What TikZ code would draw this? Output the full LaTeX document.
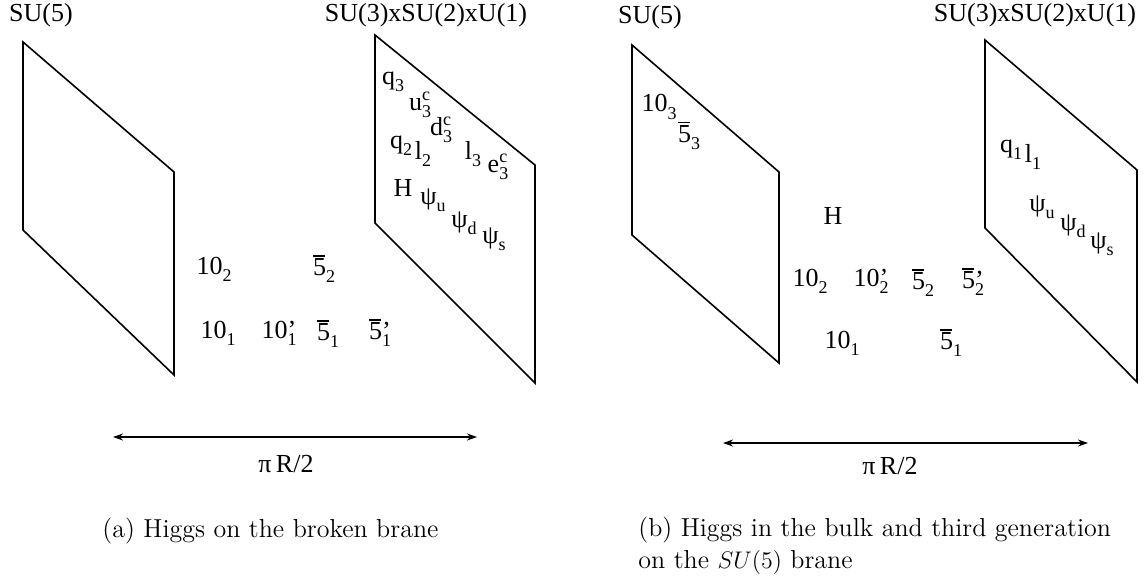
\documentclass[tikz,border=0pt]{standalone}
\usepackage{fontspec}
\newfontfamily\figfont{Liberation Serif}
\usetikzlibrary{arrows.meta}

\newcommand{\sbs}[1]{\raisebox{-0.6ex}{\fontsize{9}{9}\selectfont #1}}
\newcommand{\sps}[1]{\raisebox{0.8ex}{\fontsize{9}{9}\selectfont #1}}
\newcommand{\sbsp}[2]{\rlap{\sps{#2}}\sbs{#1}}
\newcommand{\sbpr}[1]{\rlap{’}\sbs{#1}}
\newcommand{\fivebar}{\rlap{\raisebox{0.74em}{\rule{0.46em}{0.055em}}}5}

\begin{document}
\begin{tikzpicture}[x=0.5pt, y=-0.5pt, every node/.style={inner sep=0pt},
    brane/.style={line width=0.8pt},
    lbl/.style={font=\figfont\fontsize{13}{15}\selectfont},
    dist/.style={line width=0.6pt, {Stealth[length=5pt, width=3.5pt]}-{Stealth[length=5pt, width=3.5pt]}},
    captxt/.style={font=\fontsize{13}{16}\selectfont}]
    \useasboundingbox (0,0) rectangle (1146,579);

    % (a) Higgs on the broken brane
    \draw[brane] (23,42) -- (174,172) -- (174,375) -- (23,230) -- cycle;
    \draw[brane] (375,35) -- (535,165) -- (535,383) -- (375,223) -- cycle;
    \node[lbl] (GA1) at (41,15) {SU(5)};
    \node[lbl] (GA2) at (426,15) {SU(3)xSU(2)xU(1)};

    \node[lbl] (A_q3) at (393,82) {q\sbs{3}};
    \node[lbl] (A_uc3) at (420,105) {u\sbsp{3}{c}};
    \node[lbl] (A_dc3) at (441,130) {d\sbsp{3}{c}};
    \node[lbl] (A_q2) at (401,146) {q\sbs{2}};
    \node[lbl] (A_l2) at (423,154) {l\sbs{2}};
    \node[lbl] (A_l3) at (473,154) {l\sbs{3}};
    \node[lbl] (A_ec3) at (498,167) {e\sbsp{3}{c}};
    \node[lbl] (A_H) at (403,188) {H};
    \node[lbl] (A_pu) at (433,200) {ψ\sbs{u}};
    \node[lbl] (A_pd) at (464,223) {ψ\sbs{d}};
    \node[lbl] (A_ps) at (494,239) {ψ\sbs{s}};

    \node[lbl] (A_t2) at (214,269) {10\sbs{2}};
    \node[lbl] (A_f2) at (324,269) {\fivebar\sbs{2}};
    \node[lbl] (A_t1) at (218,333) {10\sbs{1}};
    \node[lbl] (A_tp1) at (279,333) {10\sbpr{1}};
    \node[lbl] (A_f1) at (328,334) {\fivebar\sbs{1}};
    \node[lbl] (A_fp1) at (380,333) {\fivebar\sbpr{1}};

    \coordinate (A_l) at (113,437);
    \coordinate (A_r) at (477,437);
    \draw[dist] (A_l) -- (A_r);
    \node[lbl] (A_len) at (286,464) {π\,R/2};

    \node[captxt, anchor=base west] (capA) at (102,537) {(a) Higgs on the broken brane};

    % (b) Higgs in the bulk
    \draw[brane] (632,45) -- (779,172) -- (779,363) -- (632,235) -- cycle;
    \draw[brane] (985,40) -- (1137,170) -- (1137,382) -- (985,228) -- cycle;
    \node[lbl] (GB1) at (650,17) {SU(5)};
    \node[lbl] (GB2) at (1035,15) {SU(3)xSU(2)xU(1)};

    \node[lbl] (B_t3) at (659,107) {10\sbs{3}};
    \node[lbl] (B_f3) at (689,136) {\fivebar\sbs{3}};
    \node[lbl] (B_H) at (833,216) {H};
    \node[lbl] (B_t2) at (810,281) {10\sbs{2}};
    \node[lbl] (B_tp2) at (871,281) {10\sbpr{2}};
    \node[lbl] (B_f2) at (923,283) {\fivebar\sbs{2}};
    \node[lbl] (B_fp2) at (973,282) {\fivebar\sbpr{2}};
    \node[lbl] (B_t1) at (842,343) {10\sbs{1}};
    \node[lbl] (B_f1) at (951,343) {\fivebar\sbs{1}};

    \node[lbl] (B_q1) at (1011,150) {q\sbs{1}};
    \node[lbl] (B_l1) at (1033,157) {l\sbs{1}};
    \node[lbl] (B_pu) at (1042,207) {ψ\sbs{u}};
    \node[lbl] (B_pd) at (1073,226) {ψ\sbs{d}};
    \node[lbl] (B_ps) at (1102,244) {ψ\sbs{s}};

    \coordinate (B_l) at (723,443);
    \coordinate (B_r) at (1088,443);
    \draw[dist] (B_l) -- (B_r);
    \node[lbl] (B_len) at (890,466) {π\,R/2};

    \node[captxt, anchor=north west, align=left] (capB) at (638,517)
        {(b) Higgs in the bulk and third generation\\ on the $SU(5)$ brane};
\end{tikzpicture}
\end{document}
